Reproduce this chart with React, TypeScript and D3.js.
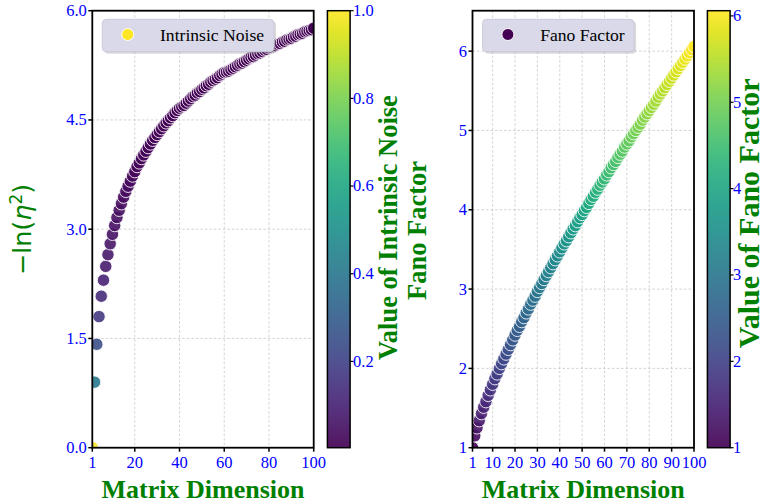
import React from 'react';
import * as d3 from 'd3';

// matrix dimension n (x for both panels)
const dimensions = [
  1, 2, 3, 4, 5, 6, 7, 8, 9, 10, 11, 12, 13, 14, 15, 16, 17, 18, 19, 20,
  21, 22, 23, 24, 25, 26, 27, 28, 29, 30, 31, 32, 33, 34, 35, 36, 37, 38, 39, 40,
  41, 42, 43, 44, 45, 46, 47, 48, 49, 50, 51, 52, 53, 54, 55, 56, 57, 58, 59, 60,
  61, 62, 63, 64, 65, 66, 67, 68, 69, 70, 71, 72, 73, 74, 75, 76, 77, 78, 79, 80,
  81, 82, 83, 84, 85, 86, 87, 88, 89, 90, 91, 92, 93, 94, 95, 96, 97, 98, 99, 100
];

// -ln(eta^2)
const negLogNoise = [
  0.0, 0.9, 1.42, 1.8, 2.08, 2.3, 2.49, 2.65, 2.8, 2.93,
  3.05, 3.16, 3.26, 3.35, 3.44, 3.52, 3.59, 3.66, 3.73, 3.79,
  3.86, 3.91, 3.97, 4.02, 4.07, 4.12, 4.17, 4.22, 4.26, 4.3,
  4.34, 4.38, 4.42, 4.46, 4.49, 4.53, 4.56, 4.6, 4.63, 4.66,
  4.68, 4.7, 4.73, 4.76, 4.79, 4.82, 4.84, 4.87, 4.89, 4.92,
  4.94, 4.97, 4.99, 5.02, 5.04, 5.06, 5.08, 5.11, 5.13, 5.15,
  5.16, 5.17, 5.19, 5.21, 5.23, 5.25, 5.27, 5.28, 5.3, 5.32,
  5.34, 5.36, 5.37, 5.39, 5.41, 5.42, 5.44, 5.46, 5.47, 5.49,
  5.5, 5.51, 5.52, 5.54, 5.55, 5.57, 5.58, 5.6, 5.61, 5.62,
  5.64, 5.65, 5.67, 5.68, 5.69, 5.71, 5.72, 5.73, 5.74, 5.76
];

// Fano factor
const fanoFactor = [
  1.0, 1.15, 1.25, 1.34, 1.43, 1.51, 1.58, 1.66, 1.73, 1.8,
  1.87, 1.93, 2.0, 2.06, 2.12, 2.18, 2.24, 2.3, 2.36, 2.42,
  2.48, 2.53, 2.59, 2.64, 2.7, 2.75, 2.81, 2.86, 2.91, 2.97,
  3.02, 3.07, 3.12, 3.17, 3.22, 3.27, 3.32, 3.37, 3.42, 3.47,
  3.52, 3.57, 3.61, 3.66, 3.71, 3.76, 3.8, 3.85, 3.9, 3.94,
  3.99, 4.03, 4.08, 4.13, 4.17, 4.22, 4.26, 4.31, 4.35, 4.39,
  4.44, 4.48, 4.53, 4.57, 4.61, 4.66, 4.7, 4.74, 4.79, 4.83,
  4.87, 4.92, 4.96, 5.0, 5.04, 5.08, 5.13, 5.17, 5.21, 5.25,
  5.29, 5.33, 5.37, 5.42, 5.46, 5.5, 5.54, 5.58, 5.62, 5.66,
  5.7, 5.74, 5.78, 5.82, 5.86, 5.9, 5.94, 5.98, 6.02, 6.06
];

const noiseXTicks = [1, 20, 40, 60, 80, 100];
const noiseYTicks = [0, 1.5, 3, 4.5, 6];
const noiseBarTicks = [0.2, 0.4, 0.6, 0.8, 1.0];
const fanoXTicks = [1, 10, 20, 30, 40, 50, 60, 70, 80, 90, 100];
const fanoYTicks = [1, 2, 3, 4, 5, 6];
const fanoBarTicks = [1, 2, 3, 4, 5, 6];

const W = 765;
const H = 504;
const TOP = 10.7;
const BOTTOM = 447.7;
const SERIF = '"Liberation Serif", "Times New Roman", serif';
const GREEN = '#008000';
const BLUE = '#0000ff';
const TICK_FONT = 16.5;

// intrinsic noise itself drives the colour of the left panel
const noiseValues = negLogNoise.map(v => Math.exp(-v));

interface PanelProps {
  id: string;
  left: number;
  right: number;
  yDomain: [number, number];
  xTicks: number[];
  yTicks: number[];
  yFormat: (v: number) => string;
  values: number[];
  colors: string[];
  legendLabel: string;
  legendColor: string;
  legendWidth: number;
}

const ScatterPanel: React.FC<PanelProps> = ({
  id, left, right, yDomain, xTicks, yTicks, yFormat, values, colors,
  legendLabel, legendColor, legendWidth
}) => {
  const x = d3.scaleLinear().domain([1, 100]).range([left, right]);
  const y = d3.scaleLinear().domain(yDomain).range([BOTTOM, TOP]);
  const lx = left + 10;
  const ly = TOP + 8.6;

  return (
    <g>
      <defs>
        <clipPath id={id}>
          <rect x={left} y={TOP} width={right - left} height={BOTTOM - TOP} />
        </clipPath>
      </defs>

      {/* grid */}
      <g stroke="#c8c8c8" strokeWidth={0.8} strokeDasharray="2.5,2">
        {xTicks.map(t => (
          <line key={'gx' + t} x1={x(t)} x2={x(t)} y1={TOP} y2={BOTTOM} />
        ))}
        {yTicks.map(t => (
          <line key={'gy' + t} x1={left} x2={right} y1={y(t)} y2={y(t)} />
        ))}
      </g>

      {/* points */}
      <g clipPath={`url(#${id})`}>
        {dimensions.map((n, i) => (
          <circle
            key={n}
            cx={x(n)}
            cy={y(values[i])}
            r={6.2}
            fill={colors[i]}
            fillOpacity={0.9}
            stroke="#ffffff"
            strokeOpacity={0.85}
            strokeWidth={1}
          />
        ))}
      </g>

      <rect x={left} y={TOP} width={right - left} height={BOTTOM - TOP}
        fill="none" stroke="#000" strokeWidth={1.8} />

      {/* x ticks */}
      {xTicks.map(t => (
        <g key={'xt' + t}>
          <line x1={x(t)} x2={x(t)} y1={BOTTOM} y2={BOTTOM + 4} stroke="#000" strokeWidth={1.5} />
          <text x={x(t)} y={BOTTOM + 20.6} textAnchor="middle" fontFamily={SERIF}
            fontSize={TICK_FONT} fill={BLUE}>{t}</text>
        </g>
      ))}

      {/* y ticks */}
      {yTicks.map(t => (
        <g key={'yt' + t}>
          <line x1={left - 4} x2={left} y1={y(t)} y2={y(t)} stroke="#000" strokeWidth={1.5} />
          <text x={left - 5.5} y={y(t)} dy="0.33em" textAnchor="end" fontFamily={SERIF}
            fontSize={TICK_FONT} fill={BLUE}>{yFormat(t)}</text>
        </g>
      ))}

      <text x={(left + right) / 2} y={498} textAnchor="middle" fontFamily={SERIF}
        fontWeight="bold" fontSize={26} fill={GREEN}>Matrix Dimension</text>

      {/* legend */}
      <rect x={lx + 2} y={ly + 2} width={legendWidth} height={32.4} rx={4}
        fill="#888" fillOpacity={0.3} />
      <rect x={lx} y={ly} width={legendWidth} height={32.4} rx={4}
        fill="#d9d9e9" stroke="#c4c4d4" strokeWidth={0.8} />
      <circle cx={lx + 25.4} cy={ly + 15.2} r={6} fill={legendColor}
        stroke="#fff" strokeWidth={1} />
      <text x={lx + 57.7} y={ly + 21.4} fontFamily={SERIF} fontSize={17.6}
        fill="#000">{legendLabel}</text>
    </g>
  );
};

interface ColorbarProps {
  id: string;
  left: number;
  domain: [number, number];
  ticks: number[];
  format: (v: number) => string;
}

const Colorbar: React.FC<ColorbarProps> = ({ id, left, domain, ticks, format }) => {
  const width = 22.7;
  const y = d3.scaleLinear().domain(domain).range([BOTTOM, TOP]);
  const stops = d3.range(0, 1.0001, 0.05);
  return (
    <g>
      <defs>
        <linearGradient id={id} x1="0" y1="1" x2="0" y2="0">
          {stops.map(s => (
            <stop key={s} offset={s} stopColor={d3.interpolateViridis(s)} stopOpacity={0.92} />
          ))}
        </linearGradient>
      </defs>
      <rect x={left} y={TOP} width={width} height={BOTTOM - TOP} fill={`url(#${id})`}
        stroke="#000" strokeWidth={1.5} />
      {ticks.map(t => (
        <g key={t}>
          <line x1={left + width} x2={left + width + 3.5} y1={y(t)} y2={y(t)}
            stroke="#000" strokeWidth={1.2} />
          <text x={left + width + 3} y={y(t)} dy="0.33em" fontFamily={SERIF}
            fontSize={TICK_FONT} fill={BLUE}>{format(t)}</text>
        </g>
      ))}
    </g>
  );
};

export default function App() {
  const noiseExtent = d3.extent(noiseValues) as [number, number];
  const fanoExtent = d3.extent(fanoFactor) as [number, number];
  const noiseColor = d3.scaleSequential(d3.interpolateViridis).domain(noiseExtent);
  const fanoColor = d3.scaleSequential(d3.interpolateViridis).domain(fanoExtent);

  return (
    <div style={{ position: 'absolute', left: 0, top: 0, width: W, height: H, background: '#fff' }}>
      <svg width={W} height={H} viewBox={`0 0 ${W} ${H}`}>
        <rect width={W} height={H} fill="#fff" />

        <ScatterPanel
          id="clip-noise"
          left={92.3}
          right={313.7}
          yDomain={[0, 6]}
          xTicks={noiseXTicks}
          yTicks={noiseYTicks}
          yFormat={d3.format('.1f')}
          values={negLogNoise}
          colors={noiseValues.map(v => noiseColor(v))}
          legendLabel="Intrinsic Noise"
          legendColor={noiseColor(noiseValues[0])}
          legendWidth={171.7}
        />
        <Colorbar id="bar-noise" left={327.4} domain={noiseExtent} ticks={noiseBarTicks}
          format={d3.format('.1f')} />

        <ScatterPanel
          id="clip-fano"
          left={472.5}
          right={694}
          yDomain={[1, 6.51]}
          xTicks={fanoXTicks}
          yTicks={fanoYTicks}
          yFormat={d3.format('d')}
          values={fanoFactor}
          colors={fanoFactor.map(v => fanoColor(v))}
          legendLabel="Fano Factor"
          legendColor={fanoColor(fanoFactor[0])}
          legendWidth={151.6}
        />
        <Colorbar id="bar-fano" left={707.4} domain={fanoExtent} ticks={fanoBarTicks}
          format={d3.format('d')} />

        {/* axis and colorbar titles */}
        <text transform="translate(31,229.5) rotate(-90)" textAnchor="middle"
          fontFamily='"DejaVu Sans", sans-serif' fontSize={25.5} fill={GREEN}>
          −ln(<tspan fontStyle="italic">η</tspan><tspan dy={-9} fontSize={17}>2</tspan><tspan dy={9}>)</tspan>
        </text>
        <text transform="translate(397,227.5) rotate(-90)" textAnchor="middle"
          fontFamily={SERIF} fontWeight="bold" fontSize={26.5} fill={GREEN}>
          Value of Intrinsic Noise
        </text>
        <text transform="translate(426,230.5) rotate(-90)" textAnchor="middle"
          fontFamily={SERIF} fontWeight="bold" fontSize={26.5} fill={GREEN}>
          Fano Factor
        </text>
        <text transform="translate(759,213.3) rotate(-90)" textAnchor="middle"
          fontFamily={SERIF} fontWeight="bold" fontSize={30} fill={GREEN}>
          Value of Fano Factor
        </text>
      </svg>
    </div>
  );
}
